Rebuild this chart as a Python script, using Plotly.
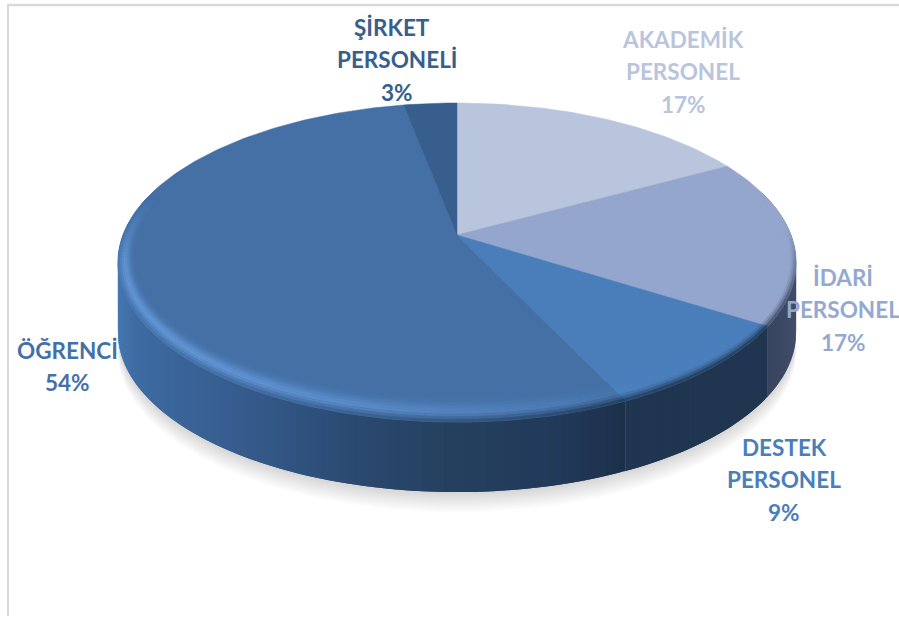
import math
import plotly.graph_objects as go

# ---- data ----
categories = ["AKADEMİK PERSONEL", "İDARİ PERSONEL", "DESTEK PERSONEL", "ÖĞRENCİ", "ŞİRKET PERSONELİ"]
values = [17, 17, 9, 54, 3]
percent_labels = ["17%", "17%", "9%", "54%", "3%"]
label_lines = [["AKADEMİK", "PERSONEL"], ["İDARİ", "PERSONEL"], ["DESTEK", "PERSONEL"], ["ÖĞRENCİ"], ["ŞİRKET", "PERSONELİ"]]

# ---- style ----
face_colors = ["#b9c5dc", "#94a6cd", "#4a7ebb", "#4470a6", "#375e8c"]
text_colors = ["#b9c5dc", "#94a9d0", "#4a7ebb", "#4470a6", "#375e8c"]
label_anchor = [(683, 39), (843, 277), (784, 447), (67, 350), (392, 27)]
LINE_STEP = 32.5
FONT = "Lato"
FONT_SIZE = 22.5

CX, CY, A, H, K = 457, 235, 334, 154.8, 0.1725
DEPTH = 70


def hex2rgb(c):
    return tuple(int(c[i:i + 2], 16) for i in (1, 3, 5))


def mix(a, b, t):
    t = max(0.0, min(1.0, t))
    return tuple(a[i] + (b[i] - a[i]) * t for i in range(3))


def quant(c, step=2.0):
    return "#%02x%02x%02x" % tuple(min(255, int(round(v / step) * step)) for v in c)


def proj(theta, r=1.0):
    u, v = r * math.sin(theta), r * math.cos(theta)
    w = 1 + K * v
    return CX + A * u / w, CY - H * v / w


total = sum(values)
bounds = [0.0]
for val in values:
    bounds.append(bounds[-1] + val / total * 2 * math.pi)


def wall_color(i, x):
    if i == 3:
        stops = [(118, "#4677b1"), (135, "#3d6ba2"), (250, "#355a8b"), (350, "#2b4a72"),
                 (450, "#25405f"), (560, "#21395a"), (622, "#1c3049")]
    elif i == 2:
        stops = [(620, "#1f3550"), (770, "#1f3550")]
    elif i == 1:
        stops = [(765, "#38445e"), (800, "#424e6a")]
    elif i == 0:
        stops = [(700, "#6d7688"), (800, "#6d7688")]
    else:
        stops = [(400, "#2b4a72"), (460, "#2b4a72")]
    if x <= stops[0][0]:
        return hex2rgb(stops[0][1])
    for (x0, c0), (x1, c1) in zip(stops, stops[1:]):
        if x <= x1:
            return mix(hex2rgb(c0), hex2rgb(c1), (x - x0) / (x1 - x0))
    return hex2rgb(stops[-1][1])


fig = go.Figure()


def flush(groups, lw=0.8):
    for color, (xs, ys) in groups.items():
        line = dict(color=color, width=lw) if lw > 0 else dict(width=0)
        fig.add_trace(go.Scatter(x=xs, y=ys, mode="lines", fill="toself", fillcolor=color,
                                 line=line, hoverinfo="skip", showlegend=False))


def add(groups, color, pts):
    xs, ys = groups.setdefault(color, ([], []))
    xs.extend([p[0] for p in pts] + [pts[0][0], None])
    ys.extend([p[1] for p in pts] + [pts[0][1], None])


# soft shadow below the disc
arc = [i / 180 * math.pi for i in range(361)]
for dy in range(2, 22, 2):
    pts = [proj(t) for t in arc]
    fig.add_trace(go.Scatter(x=[p[0] for p in pts], y=[p[1] + DEPTH + dy for p in pts], mode="lines",
                             fill="toself", fillcolor="rgba(0,0,0,0.016)", line=dict(width=0),
                             hoverinfo="skip", showlegend=False))

# side wall: each strip runs one step past its end, so the next one paints over the join
STEP = math.radians(1.0)
for i in range(len(values)):
    t = bounds[i]
    while t < bounds[i + 1] - 1e-9:
        t2 = min(t + STEP, bounds[i + 1])
        t3 = min(t2 + STEP, bounds[i + 1])
        if math.cos(t) < 0.3:
            mid = (t + t2) / 2
            strip = [proj(t + (t3 - t) * n / 4) for n in range(5)]
            outline = strip + [(p[0], p[1] + DEPTH) for p in reversed(strip)]
            one = {}
            add(one, quant(wall_color(i, proj(mid)[0]), 1.0), outline)
            flush(one, 0)
        t = t2

# top face slices
for i in range(len(values)):
    n = max(2, int((bounds[i + 1] - bounds[i]) / STEP))
    pts = [(CX, CY)] + [proj(bounds[i] + (bounds[i + 1] - bounds[i]) * k / n) for k in range(n + 1)]
    fig.add_trace(go.Scatter(x=[p[0] for p in pts] + [CX], y=[p[1] for p in pts] + [CY], mode="lines",
                             fill="toself", fillcolor=face_colors[i], line=dict(color=face_colors[i], width=0.5),
                             hoverinfo="skip", showlegend=False))

# bevelled rim: rings between the slice edge and a point further in along the same radius
RIM_STEPS = 9
HIGHLIGHT = hex2rgb("#6aa0e2")


def rim_pt(theta, s):
    v = math.cos(theta)
    w = 0.045 + 0.065 * v * v
    return proj(theta, 1 - (1 - s) * w)


for k in range(RIM_STEPS):
    rim = {}
    s0, s1 = k / RIM_STEPS, (k + 1) / RIM_STEPS
    s = (s0 + s1) / 2
    for i in range(len(values)):
        t = bounds[i]
        base = hex2rgb(face_colors[i])
        while t < bounds[i + 1] - 1e-9:
            t2 = min(t + STEP, bounds[i + 1])
            m = (t + t2) / 2
            u, v = math.sin(m), math.cos(m)
            fade = max(0.0, min(1.0, (0.25 - v) / 0.4))
            if fade > 0:
                E = max(0.0, min(1.0, -u * 0.8 - v * 0.5)) * fade
                F = max(0.0, min(1.0, -v * 2 + 0.2)) * fade
                wall = wall_color(i, proj(m)[0])
                c = mix(base, HIGHLIGHT, 0.8 * E * math.exp(-((s - 0.6) / 0.33) ** 2))
                g = max(0.0, (s - 0.6) / 0.4) ** 1.5
                c = mix(c, wall, g * F * (1 - 0.6 * E))
                add(rim, quant(c, 2.0), [rim_pt(t, s0), rim_pt(t2, s0), rim_pt(t2, s1), rim_pt(t, s1)])
            t = t2
    flush(rim, 0.5)

# labels
annotations = []
for i, lines in enumerate(label_lines):
    x0, y0 = label_anchor[i]
    texts = lines + [percent_labels[i]]
    for j, txt in enumerate(texts):
        xx = x0 + 5 if (i == 4 and j > 0) else x0
        annotations.append(dict(x=xx, y=y0 + j * LINE_STEP, xref="x", yref="y", text=txt, showarrow=False,
                                xanchor="center", yanchor="middle",
                                font=dict(family=FONT, size=FONT_SIZE, color=text_colors[i], weight="bold")))

fig.update_layout(
    width=899, height=617, margin=dict(l=0, r=0, t=0, b=0),
    paper_bgcolor="white", plot_bgcolor="white", showlegend=False,
    xaxis=dict(range=[0, 899], visible=False, fixedrange=True),
    yaxis=dict(range=[617, 0], visible=False, fixedrange=True),
    annotations=annotations,
    shapes=[
        dict(type="line", x0=7, x1=899, y0=5, y1=5, line=dict(color="#d9d9d9", width=2.5)),
        dict(type="line", x0=8, x1=8, y0=4, y1=616, line=dict(color="#d9d9d9", width=2)),
    ],
)
fig.write_html("out.html", config={"displayModeBar": False},
               post_script="document.body.style.margin='0';document.body.style.overflow='hidden';")
